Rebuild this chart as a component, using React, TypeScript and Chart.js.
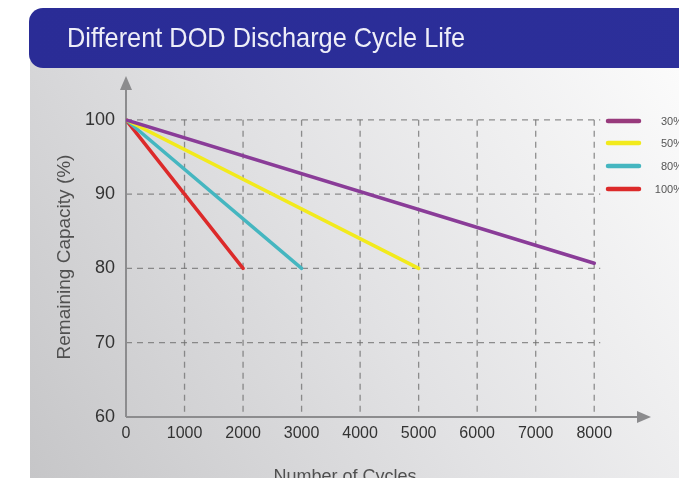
import React, { useEffect, useRef } from "react";
import { Chart, registerables } from "chart.js";

Chart.register(...registerables);

const titleText = "Different DOD Discharge Cycle Life";
const xTitle = "Number of Cycles";
const yTitle = "Remaining Capacity (%)";

const seriesLabels = ["30%", "50%", "80%", "100%"];
const seriesColors = ["#8a3c98", "#f2ea1c", "#45b6c0", "#dc2a2a"];
const legendColors = ["#983a7c", "#f2ea1c", "#45b6c0", "#dc2a2a"];

const cycles30 = [0, 8000];
const capacity30 = [100, 80.7];
const cycles50 = [0, 5000];
const capacity50 = [100, 80];
const cycles80 = [0, 3000];
const capacity80 = [100, 80];
const cycles100 = [0, 2000];
const capacity100 = [100, 80];

const xTicks = [0, 1000, 2000, 3000, 4000, 5000, 6000, 7000, 8000];
const yTicks = [60, 70, 80, 90, 100];
const gridX = [1000, 2000, 3000, 4000, 5000, 6000, 7000, 8000];
const gridY = [70, 80, 90, 100];

const FONT = "'Liberation Sans', Arial, sans-serif";

const decorPlugin = {
  id: "decor",
  beforeDraw(chart: any) {
    const ctx = chart.ctx;
    ctx.save();
    ctx.fillStyle = "#ffffff";
    ctx.fillRect(0, 0, chart.width, chart.height);
    const g = ctx.createLinearGradient(30, 478, 679, 68);
    g.addColorStop(0, "#c6c6c8");
    g.addColorStop(0.5, "#e2e2e4");
    g.addColorStop(1, "#fbfbfb");
    ctx.fillStyle = g;
    ctx.fillRect(30, 60, chart.width - 30, chart.height - 60);
    ctx.restore();
  },
  beforeDatasetsDraw(chart: any) {
    const ctx = chart.ctx;
    const xs = chart.scales.x;
    const ys = chart.scales.y;
    ctx.save();
    ctx.strokeStyle = "rgba(110,110,110,0.75)";
    ctx.lineWidth = 1.3;
    ctx.setLineDash([6, 5]);
    const xEnd = xs.getPixelForValue(8000) + 6;
    gridY.forEach((v) => {
      const y = ys.getPixelForValue(v);
      ctx.beginPath();
      ctx.moveTo(xs.getPixelForValue(0), y);
      ctx.lineTo(xEnd, y);
      ctx.stroke();
    });
    gridX.forEach((v) => {
      const x = xs.getPixelForValue(v);
      ctx.beginPath();
      ctx.moveTo(x, ys.getPixelForValue(100));
      ctx.lineTo(x, ys.getPixelForValue(60));
      ctx.stroke();
    });
    ctx.setLineDash([]);
    const x0 = xs.getPixelForValue(0);
    const y0 = ys.getPixelForValue(60);
    const top = chart.chartArea.top;
    const right = chart.chartArea.right;
    ctx.strokeStyle = "#8c8c8e";
    ctx.fillStyle = "#8c8c8e";
    ctx.lineWidth = 2;
    ctx.beginPath();
    ctx.moveTo(x0, y0);
    ctx.lineTo(x0, top + 10);
    ctx.moveTo(x0, y0);
    ctx.lineTo(right - 10, y0);
    ctx.stroke();
    ctx.beginPath();
    ctx.moveTo(x0, top);
    ctx.lineTo(x0 - 6, top + 14);
    ctx.lineTo(x0 + 6, top + 14);
    ctx.closePath();
    ctx.fill();
    ctx.beginPath();
    ctx.moveTo(right, y0);
    ctx.lineTo(right - 14, y0 - 6);
    ctx.lineTo(right - 14, y0 + 6);
    ctx.closePath();
    ctx.fill();
    ctx.restore();
  },
  afterDraw(chart: any) {
    const ctx = chart.ctx;
    ctx.save();
    const ly = [121, 143, 166, 189];
    seriesLabels.forEach((lab, i) => {
      ctx.strokeStyle = legendColors[i];
      ctx.lineWidth = 4.5;
      ctx.lineCap = "round";
      ctx.beginPath();
      ctx.moveTo(608, ly[i]);
      ctx.lineTo(639, ly[i]);
      ctx.stroke();
      ctx.fillStyle = "#555555";
      ctx.font = `11px ${FONT}`;
      ctx.textAlign = "right";
      ctx.textBaseline = "middle";
      ctx.fillText(lab, 683, ly[i] + 1);
    });
    ctx.fillStyle = "#505050";
    ctx.font = `19px ${FONT}`;
    ctx.textAlign = "center";
    ctx.textBaseline = "middle";
    ctx.translate(65, 257);
    ctx.rotate(-Math.PI / 2);
    ctx.fillText(yTitle, 0, 0);
    ctx.setTransform(1, 0, 0, 1, 0, 0);
    ctx.font = `18px ${FONT}`;
    ctx.textBaseline = "alphabetic";
    ctx.fillText(xTitle, 345, 482);
    ctx.restore();
  },
};

export default function App() {
  const ref = useRef<HTMLCanvasElement | null>(null);
  useEffect(() => {
    if (!ref.current) return;
    const mk = (xs: number[], ys: number[]) => xs.map((x, i) => ({ x, y: ys[i] }));
    const data = [
      mk(cycles30, capacity30),
      mk(cycles50, capacity50),
      mk(cycles80, capacity80),
      mk(cycles100, capacity100),
    ];
    const chart = new Chart(ref.current, {
      type: "line",
      data: {
        datasets: data.map((d, i) => ({
          label: seriesLabels[i],
          data: d,
          borderColor: seriesColors[i],
          backgroundColor: seriesColors[i],
          borderWidth: 3.5,
          pointRadius: 0,
          tension: 0,
          borderCapStyle: "round",
        })),
      },
      options: {
        animation: false,
        responsive: false,
        maintainAspectRatio: false,
        layout: { padding: { left: 0, top: 76, right: 28, bottom: 0 } },
        plugins: {
          legend: { display: false },
          tooltip: { enabled: false },
          title: { display: false },
        },
        scales: {
          x: {
            type: "linear",
            min: 0,
            max: 8970,
            grid: { display: false, drawTicks: false },
            border: { display: false },
            afterBuildTicks: (s: any) => {
              s.ticks = xTicks.map((v) => ({ value: v }));
            },
            afterFit: (s: any) => {
              s.height = 61;
            },
            ticks: {
              color: "#333333",
              font: { size: 16, family: FONT },
              padding: 7,
              maxRotation: 0,
              autoSkip: false,
              callback: (v: any) => String(v),
            },
          },
          y: {
            type: "linear",
            min: 60,
            max: 105.9,
            grid: { display: false, drawTicks: false },
            border: { display: false },
            afterBuildTicks: (s: any) => {
              s.ticks = yTicks.map((v) => ({ value: v }));
            },
            afterFit: (s: any) => {
              s.width = 126;
            },
            ticks: {
              color: "#333333",
              font: { size: 18, family: FONT },
              padding: 11,
              autoSkip: false,
              callback: (v: any) => String(v),
            },
          },
        },
      },
      plugins: [decorPlugin],
    } as any);
    return () => chart.destroy();
  }, []);

  return (
    <div style={{ position: "fixed", left: 0, top: 0, width: 679, height: 478, overflow: "hidden", background: "#fff" }}>
      <canvas ref={ref} width={679} height={478} style={{ position: "absolute", left: 0, top: 0 }} />
      <div
        style={{
          position: "absolute",
          left: 29,
          top: 8,
          width: 700,
          height: 60,
          background: "linear-gradient(to right, #2a2c96, #2c2f9a)",
          borderRadius: "14px 0 0 14px",
        }}
      />
      <div
        style={{
          position: "absolute",
          left: 67,
          top: 10,
          height: 56,
          lineHeight: "56px",
          color: "#eeeef8",
          fontFamily: FONT,
          fontSize: 28,
          whiteSpace: "nowrap",
          transform: "scaleX(0.905)",
          transformOrigin: "left center",
        }}
      >
        {titleText}
      </div>
    </div>
  );
}
